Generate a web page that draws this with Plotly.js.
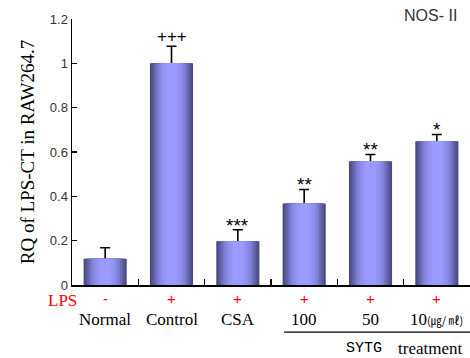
<!DOCTYPE html>
<html>
<head>
<meta charset="utf-8">
<script src="https://cdn.plot.ly/plotly-3.0.1.min.js"></script>
<style>html,body{margin:0;padding:0;background:#fff;}#chart{width:470px;height:358px;}</style>
</head>
<body>
<div id="chart"></div>
<script>
// ---- data ----
const categories = ["Normal", "Control", "CSA", "100", "50", "10"];
const categoryLabels = ["Normal", "Control", "CSA", "100", "50", "10<span style='font-size:11px;font-family:Noto Sans CJK KR'>(㎍/ ㎖)</span>"];
const values = [0.118, 1.0, 0.197, 0.368, 0.558, 0.648];
const errors = [0.05, 0.077, 0.052, 0.063, 0.031, 0.031];
const lpsSigns = ["-", "+", "+", "+", "+", "+"];
const significance = ["", "+++", "***", "**", "**", "*"];
const yTicks = [0, 0.2, 0.4, 0.6, 0.8, 1, 1.2];

// ---- shaded bar layers (dark edges, light centre) ----
const layerWidths = [0.65, 0.60, 0.55, 0.50, 0.45, 0.40, 0.33, 0.25, 0.16];
const layerColors = ["#4a4a80", "#555592", "#6060a6", "#6c6cb8", "#7878ca", "#8383db", "#8d8deb", "#9595f7", "#9a9aff"];

const xIdx = categories.map((c, i) => i);
const traces = layerWidths.map((w, k) => ({
  type: "bar",
  x: xIdx,
  y: values,
  width: w,
  marker: {color: layerColors[k], line: {width: 0}},
  hoverinfo: "skip",
  showlegend: false,
  error_y: k === 0 ? {type: "data", array: errors, visible: true, color: "#000", thickness: 1.6, width: 5} : {visible: false}
}));

const annotations = [];
// significance marks
xIdx.forEach(i => {
  if (!significance[i]) return;
  const isPlus = significance[i].startsWith("+");
  annotations.push({
    x: i, y: values[i] + errors[i], xref: "x", yref: "y",
    text: significance[i], showarrow: false,
    yanchor: "bottom", yshift: isPlus ? -2 : -8,
    font: {family: "Liberation Sans, Arial", size: isPlus ? 17 : 19, color: "#000"}
  });
});
// LPS row
annotations.push({x: -0.025, y: -0.058, xref: "paper", yref: "paper", text: "LPS", showarrow: false,
  xanchor: "center", yanchor: "middle", borderpad: 0, font: {family: "Liberation Serif, Times New Roman", size: 17, color: "#ff0000"}});
xIdx.forEach(i => annotations.push({x: i, y: -0.049, xref: "x", yref: "paper", text: lpsSigns[i], showarrow: false,
  xanchor: "center", yanchor: "middle", font: {family: "Liberation Sans, Arial", size: 15, color: "#ff0000"}}));
// category labels
xIdx.forEach(i => annotations.push({x: i, y: -0.128, xref: "x", yref: "paper", text: categoryLabels[i], showarrow: false,
  xanchor: "center", yanchor: "middle", font: {family: "Liberation Serif, Times New Roman", size: 17, color: "#000"}}));
// SYTG treatment
annotations.push({x: 0.734, y: -0.237, xref: "paper", yref: "paper", text: "SYTG", showarrow: false,
  xanchor: "center", yanchor: "middle", font: {family: "Liberation Mono, Courier New", size: 15, color: "#000"}});
annotations.push({x: 0.90, y: -0.237, xref: "paper", yref: "paper", text: "treatment", showarrow: false,
  xanchor: "center", yanchor: "middle", font: {family: "Liberation Serif, Times New Roman", size: 17, color: "#000"}});
// NOS-II label
annotations.push({x: 0.90, y: 1.015, xref: "paper", yref: "paper", text: "NOS- II", showarrow: false,
  xanchor: "center", yanchor: "middle", font: {family: "Liberation Sans, Arial", size: 16, color: "#333"}});

const layout = {
  width: 470, height: 358,
  margin: {l: 72, r: 0, t: 19, b: 73},
  paper_bgcolor: "#fff", plot_bgcolor: "#fff",
  barmode: "overlay",
  showlegend: false,
  xaxis: {
    range: [-0.5, 5.5], showgrid: false, zeroline: false,
    showline: true, linecolor: "#000", linewidth: 1.5,
    tickmode: "array", tickvals: [0.5, 1.5, 2.5, 3.5, 4.5], ticktext: ["", "", "", "", ""],
    ticks: "inside", ticklen: 6, tickwidth: 1.3, tickcolor: "#000",
    fixedrange: true
  },
  yaxis: {
    range: [0, 1.2], showgrid: false, zeroline: false,
    showline: true, linecolor: "#000", linewidth: 1.5,
    tickmode: "array", tickvals: yTicks, ticktext: yTicks.map(v => String(v)),
    ticks: "inside", ticklen: 5, tickwidth: 1.3, tickcolor: "#000",
    tickfont: {family: "Liberation Sans, Arial", size: 13, color: "#333"},
    title: {text: "RQ of LPS-CT in RAW264.7", font: {family: "Liberation Serif, Times New Roman", size: 19, color: "#000"}, standoff: 10},
    fixedrange: true
  },
  shapes: [
    {type: "line", xref: "paper", yref: "paper", x0: 0.533, x1: 1.0, y0: -0.177, y1: -0.177, line: {color: "#000", width: 1.3}}
  ],
  annotations: annotations
};

Plotly.newPlot("chart", traces, layout, {displayModeBar: false, staticPlot: true});
</script>
</body>
</html>
